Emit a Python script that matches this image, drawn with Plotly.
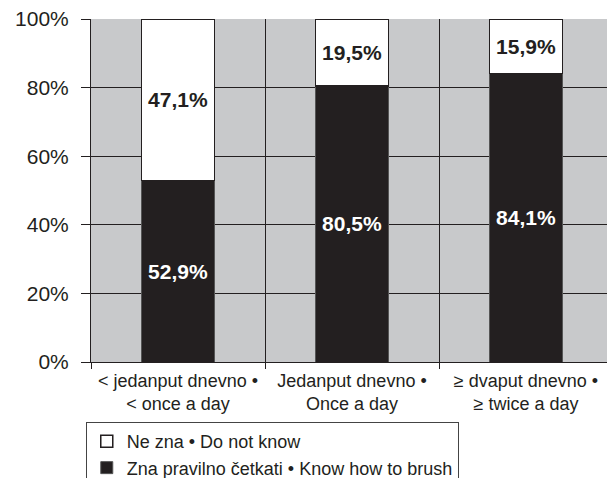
import plotly.graph_objects as go

categories = ["&lt; jedanput dnevno •<br>&lt; once a day",
              "Jedanput dnevno •<br>Once a day",
              "≥ dvaput dnevno •<br>≥ twice a day"]
know = [52.9, 80.5, 84.1]
dont_know = [47.1, 19.5, 15.9]
know_labels = ["52,9%", "80,5%", "84,1%"]
dont_labels = ["47,1%", "19,5%", "15,9%"]
tick_vals = [0, 20, 40, 60, 80, 100]
tick_text = ["0%", "20%", "40%", "60%", "80%", "100%"]

BLACK = "#231F20"
GRAY = "#C8C9CB"
FONT = "Liberation Sans, Arial, sans-serif"

fig = go.Figure()
fig.add_trace(go.Bar(
    x=categories, y=know, name="Zna pravilno četkati • Know how to brush",
    legendgroup="know",
    marker=dict(color=BLACK, line=dict(color="#555555", width=1)),
    text=know_labels, textposition="inside", insidetextanchor="middle",
    textfont=dict(color="white", size=21, family=FONT, weight="bold"),
    width=0.42,
))
fig.add_trace(go.Bar(
    x=categories, y=dont_know, name="Ne zna • Do not know",
    legendgroup="dont",
    marker=dict(color="white", line=dict(color=BLACK, width=1.5)),
    text=dont_labels, textposition="inside", insidetextanchor="middle",
    textfont=dict(color=BLACK, size=21, family=FONT, weight="bold"),
    width=0.42,
))

# page body has an 8px margin; size the figure so the plot lands where the reference has it
fig.update_layout(
    barmode="stack",
    width=607, height=470,
    margin=dict(l=83, r=2, t=11, b=116, autoexpand=False),
    paper_bgcolor="white",
    plot_bgcolor=GRAY,
    font=dict(family=FONT, color=BLACK),
    uniformtext=dict(minsize=21, mode="show"),
    showlegend=True,
    legend=dict(
        x=-0.01, y=-0.175, xanchor="left", yanchor="top",
        traceorder="reversed",
        bordercolor="#444444", borderwidth=1,
        font=dict(size=18, family=FONT, color=BLACK),
        bgcolor="white",
        itemwidth=30,
        tracegroupgap=5,
    ),
)
fig.update_xaxes(
    tickson="boundaries", showgrid=True, gridcolor=BLACK, gridwidth=1,
    ticks="outside", ticklen=6, tickcolor=BLACK,
    showline=True, linecolor=BLACK, linewidth=1,
    tickfont=dict(size=18, family=FONT, color=BLACK),
    ticklabelstandoff=2,
    automargin=False,
)
fig.update_yaxes(
    range=[0, 100], tickvals=tick_vals, ticktext=tick_text,
    showgrid=True, gridcolor=BLACK, gridwidth=1,
    ticks="outside", ticklen=9, tickcolor=BLACK,
    showline=True, linecolor=BLACK, linewidth=1,
    tickfont=dict(size=21, family=FONT, color=BLACK),
    ticklabelstandoff=8,
    ticklabeloverflow="allow",
    zeroline=False,
    automargin=False,
)

fig.write_html("out.html")
